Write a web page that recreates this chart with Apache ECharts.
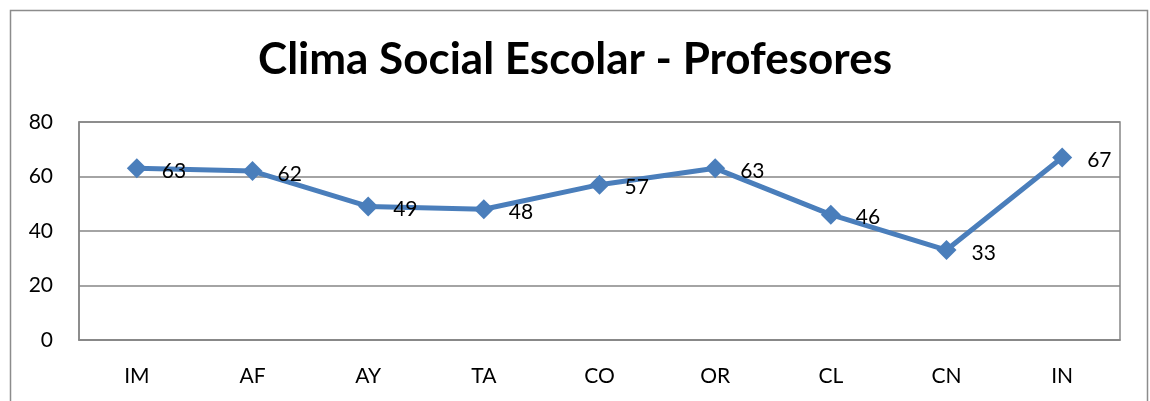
<!DOCTYPE html>
<html><head><meta charset="utf-8">
<script src="https://cdn.jsdelivr.net/npm/echarts@6/dist/echarts.min.js"></script>
<style>html,body{margin:0;padding:0;background:#fff}#c{width:1150px;height:401px}</style>
</head><body><div id="c"></div>
<script>
var categories = ['IM','AF','AY','TA','CO','OR','CL','CN','IN'];
var values = [63,62,49,48,57,63,46,33,67];
var yTicks = [0,20,40,60,80];
var titleText = 'Clima Social Escolar - Profesores';

var chart = echarts.init(document.getElementById('c'), null, {renderer:'canvas'});
chart.setOption({
  animation:false,
  backgroundColor:'#fff',
  graphic:[{type:'rect',shape:{x:10.5,y:10.5,width:1137,height:430},style:{fill:'none',stroke:'#8c8c8c',lineWidth:1.5},silent:true}],
  title:{text:titleText,left:'center',top:33,textStyle:{fontFamily:'Lato',fontWeight:'bold',fontSize:44,color:'#000'}},
  grid:{left:79,right:30,top:122,bottom:61,containLabel:false,show:true,borderColor:'#868686',borderWidth:1.5},
  xAxis:{type:'category',data:categories,boundaryGap:true,
    axisLine:{show:true,lineStyle:{color:'#868686',width:1.5}},axisTick:{show:false},
    axisLabel:{margin:26,fontFamily:'Lato',fontSize:21,color:'#000'},splitLine:{show:false}},
  yAxis:{type:'value',min:0,max:80,interval:20,
    axisLine:{show:true,lineStyle:{color:'#868686',width:1.5}},axisTick:{show:false},
    axisLabel:{margin:26,fontFamily:'Lato',fontSize:21,color:'#000',formatter:function(v){return yTicks.indexOf(v)>=0?String(v):'';}},
    splitLine:{show:true,lineStyle:{color:'#868686',width:1.5}}},
  series:[{type:'line',data:values,symbol:'diamond',symbolSize:20,
    lineStyle:{color:'#4a7ebb',width:5},itemStyle:{color:'#4a7ebb'},
    label:{show:true,position:'right',distance:5,offset:[10,3],fontFamily:'Lato',fontSize:21,color:'#000'}}]
});
</script></body></html>
